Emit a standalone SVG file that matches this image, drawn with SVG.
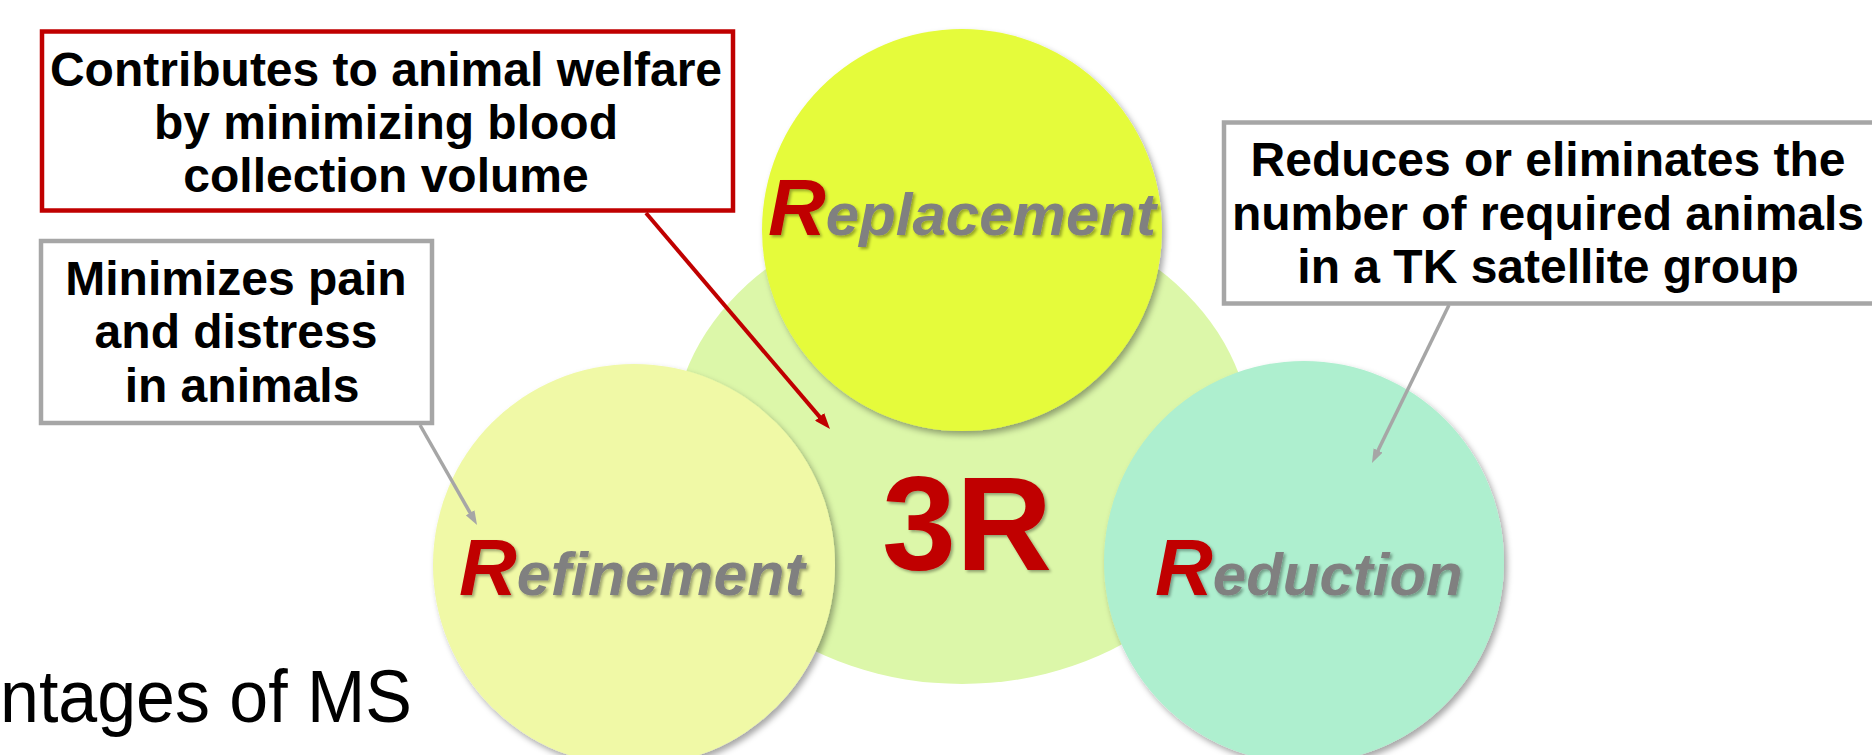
<svg xmlns="http://www.w3.org/2000/svg" width="1872" height="755" viewBox="0 0 1872 755">
  <style>
    .note { fill: #ffffff; stroke-width: 4.5; }
    .note-red { stroke: #c00000; }
    .note-gray { stroke: #a6a6a6; }
    .note-text { font-family: "Liberation Sans", Arial, sans-serif; font-weight: 700; font-size: 48px; fill: #000000; text-anchor: middle; }
    .r-label { font-family: "Liberation Sans", Arial, sans-serif; font-weight: 700; font-style: italic; }
    .r-cap { fill: #c00000; font-size: 80px; }
    .r-rest { fill: #808080; font-size: 60px; }
    .big-3r { font-family: "Liberation Sans", Arial, sans-serif; font-weight: 700; font-size: 133px; fill: #c00000; text-anchor: middle; }
    .title { font-family: "Liberation Sans", Arial, sans-serif; font-size: 75px; fill: #000000; }
    .link-red { stroke: #c00000; stroke-width: 4; fill: none; }
    .link-gray { stroke: #a6a6a6; stroke-width: 3.5; fill: none; }
  </style>
  <defs>
    <filter id="circleShadow" x="-10%" y="-10%" width="125%" height="125%">
      <feDropShadow dx="3" dy="4" stdDeviation="3" flood-color="#000000" flood-opacity="0.35"/>
    </filter>
    <filter id="textShadow" x="-10%" y="-10%" width="125%" height="125%">
      <feDropShadow dx="2" dy="2" stdDeviation="1.5" flood-color="#000000" flood-opacity="0.35"/>
    </filter>
    <marker id="arrowRed" viewBox="0 0 16 12" refX="4" refY="6" markerWidth="16" markerHeight="12" markerUnits="userSpaceOnUse" orient="auto">
      <path d="M0,0 L16,6 L0,12 z" fill="#c00000"/>
    </marker>
    <marker id="arrowGray" viewBox="0 0 14 10" refX="3" refY="5" markerWidth="14" markerHeight="10" markerUnits="userSpaceOnUse" orient="auto">
      <path d="M0,0 L14,5 L0,10 z" fill="#a6a6a6"/>
    </marker>
  </defs>

  <rect width="1872" height="755" fill="#ffffff"/>

  <!-- heading at the lower left -->
  <text class="title" x="0" y="722" textLength="412" lengthAdjust="spacingAndGlyphs">ntages of MS</text>

  <!-- central 3R field -->
  <g id="n-3r">
    <ellipse cx="962" cy="445" rx="290" ry="239" fill="#dcf7a9"/>
    <text class="big-3r" x="967" y="570" filter="url(#textShadow)">3R</text>
  </g>

  <g id="n-replacement">
    <ellipse cx="962" cy="230" rx="200" ry="201" fill="#e5fb3b" filter="url(#circleShadow)"/>
    <text class="r-label" x="768" y="235" filter="url(#textShadow)"><tspan class="r-cap">R</tspan><tspan class="r-rest">eplacement</tspan></text>
  </g>

  <g id="n-refinement">
    <ellipse cx="634" cy="565" rx="201" ry="201" fill="#f0f9a6" filter="url(#circleShadow)"/>
    <text class="r-label" x="459" y="595" filter="url(#textShadow)"><tspan class="r-cap">R</tspan><tspan class="r-rest" style="font-size:61px">efinement</tspan></text>
  </g>

  <g id="n-reduction">
    <ellipse cx="1304" cy="562" rx="200" ry="201" fill="#aeefcf" filter="url(#circleShadow)"/>
    <text class="r-label" x="1155" y="595" filter="url(#textShadow)"><tspan class="r-cap">R</tspan><tspan class="r-rest">eduction</tspan></text>
  </g>

  <!-- callout notes -->
  <g id="n-note-welfare">
    <rect class="note note-red" x="42" y="31.5" width="691" height="179"/>
    <text class="note-text" x="386" y="86">Contributes to animal welfare</text>
    <text class="note-text" x="386" y="139">by minimizing blood</text>
    <text class="note-text" x="386" y="192">collection volume</text>
  </g>

  <g id="n-note-pain">
    <rect class="note note-gray" x="41" y="241" width="391" height="182"/>
    <text class="note-text" x="236" y="295">Minimizes pain</text>
    <text class="note-text" x="236" y="348">and distress</text>
    <text class="note-text" x="242" y="402">in animals</text>
  </g>

  <g id="n-note-reduce">
    <rect class="note note-gray" x="1224" y="122.5" width="700" height="181"/>
    <text class="note-text" x="1548" y="176">Reduces or eliminates the</text>
    <text class="note-text" x="1548" y="230">number of required animals</text>
    <text class="note-text" x="1548" y="283">in a TK satellite group</text>
  </g>

  <!-- connectors -->
  <g id="connectors">
    <line class="link-red" x1="646" y1="213" x2="822.2" y2="419.9" marker-end="url(#arrowRed)"/>
    <line class="link-gray" x1="420" y1="425" x2="471.6" y2="515.4" marker-end="url(#arrowGray)"/>
    <line class="link-gray" x1="1449" y1="305" x2="1376.8" y2="453.1" marker-end="url(#arrowGray)"/>
  </g>
</svg>
